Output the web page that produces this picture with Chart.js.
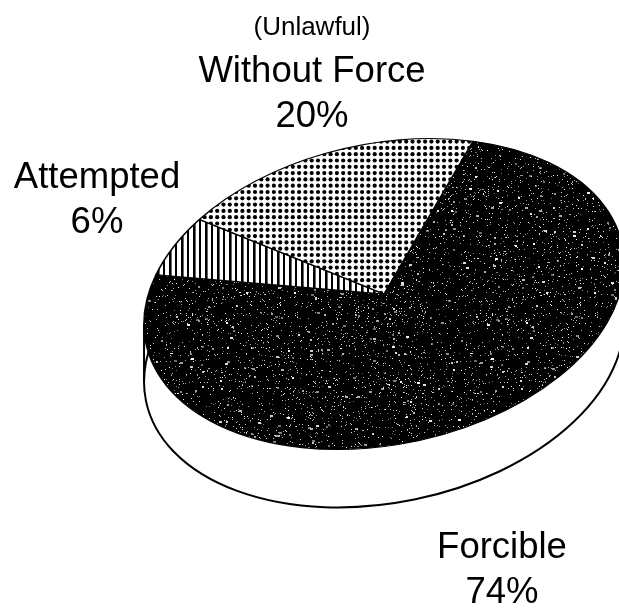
<!DOCTYPE html>
<html>
<head>
<meta charset="utf-8">
<style>
  html, body { margin: 0; padding: 0; background: #fff; overflow: hidden; }
  #wrap { width: 619px; height: 608px; }
</style>
<script src="https://cdn.jsdelivr.net/npm/chart.js@4"></script>
</head>
<body>
<div id="wrap"><canvas id="myChart" width="619" height="608"></canvas></div>
<script>
const categories = ["Forcible", "Attempted", "Without Force"];
const values = [74, 6, 20];
const noteLabel = "(Unlawful)";

// tilt of the pie and height of its side wall
const TILT = -11.6 * Math.PI / 180;
const SQUASH = 0.62;
const DEPTH = 58;
const CENTER_Y = 294;

// speckled black, seeded so it draws the same each time
function speckle() {
    const c = document.createElement("canvas");
    c.width = c.height = 300;
    const g = c.getContext("2d");
    g.fillStyle = "#000";
    g.fillRect(0, 0, 300, 300);
    g.fillStyle = "#fff";
    let seed = 12345;
    const next = () => (seed = (seed * 16807) % 2147483647) / 2147483647;
    for (let i = 0; i < 4200; i++) {
        const big = next() < 0.06;
        g.globalAlpha = 0.4 + next() * 0.6;
        g.fillRect(Math.floor(next() * 300), Math.floor(next() * 300), big ? 2 + Math.floor(next() * 2) : 1, big ? 2 : 1);
    }
    return c;
}

function dots() {
    const step = 6.3;
    const c = document.createElement("canvas");
    c.width = c.height = Math.round(step * 10);
    const g = c.getContext("2d");
    g.fillStyle = "#fff";
    g.fillRect(0, 0, c.width, c.height);
    g.fillStyle = "#000";
    for (let i = 0; i < 10; i++) {
        for (let j = 0; j < 10; j++) {
            g.beginPath();
            g.arc(3 + i * step, 3 + j * step, 2.1, 0, Math.PI * 2);
            g.fill();
        }
    }
    return c;
}

function stripes() {
    const c = document.createElement("canvas");
    c.width = 24;
    c.height = 4;
    const g = c.getContext("2d");
    g.fillStyle = "#fff";
    g.fillRect(0, 0, 24, 4);
    g.fillStyle = "#000";
    [[1, 2.6], [7, 2], [13, 2.6], [19, 2]].forEach(s => g.fillRect(s[0], 0, s[1], 4));
    return c;
}

const ctxMain = document.getElementById("myChart").getContext("2d");
const patterns = [speckle(), stripes(), dots()].map(c => ctxMain.createPattern(c, "repeat"));

const tiltPie = {
    id: "tiltPie",
    beforeDatasetsDraw(chart) {
        const ctx = chart.ctx;
        const arc = chart.getDatasetMeta(0).data[0];
        const a = arc.outerRadius;
        const b = a * SQUASH;

        // side wall under the pie
        const halfW = Math.sqrt(a * a * Math.cos(TILT) ** 2 + b * b * Math.sin(TILT) ** 2);
        const leftY = CENTER_Y + (a * a - b * b) * Math.abs(Math.sin(TILT) * Math.cos(TILT)) / halfW;
        const rightY = 2 * CENTER_Y - leftY;
        ctx.save();
        ctx.fillStyle = "#fff";
        ctx.strokeStyle = "#000";
        ctx.lineWidth = 2;
        ctx.beginPath();
        ctx.ellipse(arc.x, CENTER_Y + DEPTH, a, b, TILT, 0, Math.PI * 2);
        ctx.fill();
        ctx.stroke();
        ctx.beginPath();
        ctx.moveTo(arc.x - halfW, leftY);
        ctx.lineTo(arc.x - halfW, leftY + DEPTH);
        ctx.moveTo(arc.x + halfW, rightY);
        ctx.lineTo(arc.x + halfW, rightY + DEPTH);
        ctx.stroke();
        ctx.restore();

        ctx.save();
        ctx.translate(arc.x, CENTER_Y);
        ctx.rotate(TILT);
        ctx.scale(1, SQUASH);
        ctx.translate(-arc.x, -arc.y);
        // keep the fill patterns square on the page
        const inv = ctx.getTransform().inverse();
        patterns.forEach(p => p.setTransform(inv));
    },
    afterDatasetsDraw(chart) {
        chart.ctx.restore();
    }
};

const textLabels = {
    id: "textLabels",
    afterDraw(chart) {
        const ctx = chart.ctx;
        ctx.save();
        ctx.fillStyle = "#000";
        ctx.textAlign = "center";
        ctx.textBaseline = "alphabetic";
        ctx.font = "26px 'Liberation Sans'";
        ctx.fillText(noteLabel, 312, 35);
        ctx.font = "36.5px 'Liberation Sans'";
        ctx.fillText(categories[2], 312, 82);
        ctx.fillText(values[2] + "%", 312, 127);
        ctx.fillText(categories[1], 97, 188);
        ctx.fillText(values[1] + "%", 97, 233);
        ctx.fillText(categories[0], 502, 558);
        ctx.fillText(values[0] + "%", 502, 603);
        ctx.restore();
    }
};

new Chart(ctxMain, {
    type: "pie",
    data: {
        labels: categories,
        datasets: [{
            data: values,
            backgroundColor: patterns,
            borderColor: "#000",
            borderWidth: 1.8,
            radius: 243,
            clip: false
        }]
    },
    options: {
        responsive: false,
        animation: false,
        rotation: 29,
        layout: { padding: { left: 149, bottom: 20 } },
        plugins: { legend: { display: false }, tooltip: { enabled: false } },
        events: []
    },
    plugins: [tiltPie, textLabels]
});
</script>
</body>
</html>
